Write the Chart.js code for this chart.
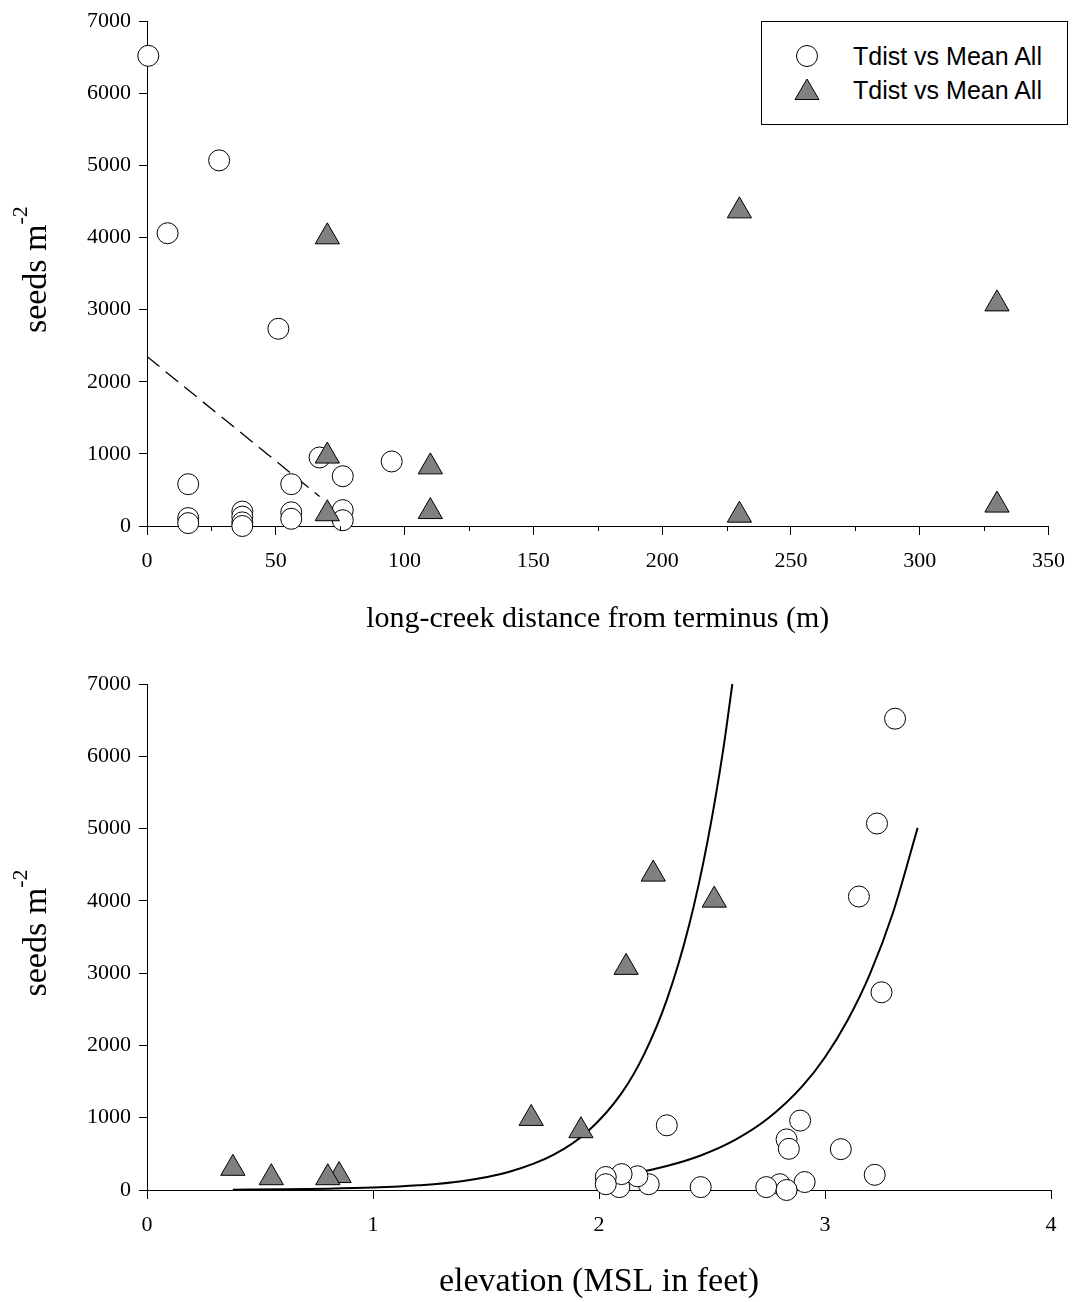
<!DOCTYPE html>
<html lang="en">
<head>
  <meta charset="UTF-8">
  <title>Seeds vs distance and elevation</title>
  <script src="https://cdn.jsdelivr.net/npm/chart.js"></script>
  <style>
    body { margin: 0; background: #fff; }
    #wrap { position: relative; width: 1078px; height: 1302px; }
    .panel { position: absolute; left: 0; width: 1078px; }
    #top { top: 0; height: 650px; }
    #bottom { top: 650px; height: 652px; }
    #legend {
      position: absolute; left: 761px; top: 21px; width: 305px; height: 102px;
      border: 1px solid #000; background: #fff;
      font-family: "Liberation Sans", Arial, sans-serif; font-size: 25px; color: #000;
    }
    .row { position: absolute; left: 0; height: 30px; width: 100%; }
    .row svg { position: absolute; left: 30px; top: 0; }
    .row span { position: absolute; left: 91px; top: 1px; line-height: 28px; }
  </style>
</head>
<body>
<div id="wrap">
  <div class="panel" id="top"><canvas id="chartTop"></canvas></div>
  <div class="panel" id="bottom"><canvas id="chartBottom"></canvas></div>
  <div id="legend">
    <div class="row" style="top:19px">
      <svg width="30" height="30"><circle cx="15" cy="15" r="10.5" fill="#fff" stroke="#000" stroke-width="1"/></svg>
      <span>Tdist vs Mean All</span>
    </div>
    <div class="row" style="top:53px">
      <svg width="30" height="30"><polygon points="15,4 27,24.5 3,24.5" fill="#808080" stroke="#000" stroke-width="1"/></svg>
      <span>Tdist vs Mean All</span>
    </div>
  </div>
</div>

<script>
  // top panel: long-creek distance (m)
  const circDist  = [0.5, 28, 8, 51, 16, 16, 16, 37, 37, 37, 37, 56, 56, 56, 67, 76, 76, 76, 95];
  const circSeedsTop = [6520, 5070, 4060, 2735, 580, 110, 40, 200, 130, 50, 0, 580, 190, 100, 950, 690, 220, 80, 895];
  const triDist  = [70, 230, 330, 70, 110, 70, 110, 230, 330];
  const triSeedsTop = [4010, 4370, 3080, 970, 820, 170, 200, 150, 290];
  const fitDist  = [0, 67];
  const fitSeedsTop = [2350, 410];
  const minorDist = [25, 75, 125, 175, 225, 275, 325];

  // bottom panel: elevation (MSL in feet)
  const circElev = [3.31, 3.23, 3.15, 3.25, 2.89, 2.30, 2.83, 2.84, 3.07, 3.22, 2.91, 2.80, 2.74, 2.83, 2.45, 2.22, 2.09, 2.17, 2.10, 2.03, 2.03];
  const circSeedsBot = [6520, 5070, 4060, 2735, 960, 895, 700, 570, 565, 210, 110, 80, 40, 0, 40, 80, 40, 190, 220, 180, 80];
  const triElev = [2.51, 2.24, 2.12, 1.70, 1.92, 0.55, 0.85, 0.80, 0.38];
  const triSeedsBot = [4010, 4370, 3080, 990, 820, 170, 200, 170, 300];
  const curveAElev  = [0.38, 0.6, 0.8, 1.0, 1.2, 1.4, 1.6, 1.8, 1.95, 2.1, 2.2, 2.3, 2.4, 2.48, 2.55, 2.59];
  const curveASeeds = [4, 9, 17, 33, 65, 126, 250, 490, 810, 1340, 1880, 2630, 3680, 4820, 6100, 7000];
  const curveBElev  = [2.03, 2.15, 2.3, 2.45, 2.6, 2.75, 2.9, 3.0, 3.1, 3.2, 3.3, 3.41];
  const curveBSeeds = [171, 229, 331, 477, 689, 995, 1437, 1836, 2348, 2997, 3829, 5010];

  const serif = '"Liberation Serif", "Times New Roman", serif';
  const pts = (xs, ys) => xs.map((x, i) => ({ x: x, y: ys[i] }));

  const circleSet = (data) => ({
    label: 'Tdist vs Mean All', data: data, pointStyle: 'circle', pointRadius: 10.5,
    pointBackgroundColor: '#fff', pointBorderColor: '#000', pointBorderWidth: 1, clip: false, order: 1
  });
  const triangleSet = (data) => ({
    label: 'Tdist vs Mean All', data: data, pointStyle: 'triangle', pointRadius: 14,
    pointBackgroundColor: '#808080', pointBorderColor: '#000', pointBorderWidth: 1, clip: false, order: 0
  });
  const lineSet = (data, dash) => ({
    type: 'line', label: 'fit', data: data, showLine: true, pointRadius: 0, borderColor: '#000',
    borderWidth: dash ? 1.3 : 2, borderDash: dash || [], cubicInterpolationMode: 'monotone', fill: false, order: 2
  });

  // y title with superscript, drawn rotated
  const yTitle = {
    id: 'yTitle',
    afterDraw(chart) {
      const { ctx, chartArea } = chart;
      const cy = (chartArea.top + chartArea.bottom) / 2 - 4;
      ctx.save();
      ctx.translate(36, cy);
      ctx.rotate(-Math.PI / 2);
      ctx.fillStyle = '#000';
      ctx.font = '34px ' + serif;
      const w1 = ctx.measureText('seeds m').width;
      ctx.font = '22px ' + serif;
      const w2 = ctx.measureText('-2').width;
      const x0 = -(w1 + w2) / 2;
      ctx.font = '34px ' + serif;
      ctx.fillText('seeds m', x0, 10);
      ctx.font = '22px ' + serif;
      ctx.fillText('-2', x0 + w1, -9);
      ctx.restore();
    }
  };

  // short minor ticks on the distance axis
  const minorTicks = {
    id: 'minorTicks',
    afterDraw(chart, args, opts) {
      if (!opts.values) return;
      const { ctx } = chart;
      const xs = chart.scales.x;
      ctx.save();
      ctx.strokeStyle = '#000';
      ctx.lineWidth = 1;
      opts.values.forEach(v => {
        const px = Math.round(xs.getPixelForValue(v)) + 0.5;
        ctx.beginPath();
        ctx.moveTo(px, xs.top);
        ctx.lineTo(px, xs.top + 5);
        ctx.stroke();
      });
      ctx.restore();
    }
  };

  function makeOptions(o) {
    return {
      responsive: true, maintainAspectRatio: false, animation: false,
      layout: { padding: { top: o.padTop, right: 27, left: 0, bottom: 0 } },
      plugins: { legend: { display: false }, tooltip: { enabled: false }, minorTicks: { values: o.minor } },
      scales: {
        x: {
          type: 'linear', min: o.xMin, max: o.xMax,
          afterFit: s => { s.height = o.xHeight; },
          grid: { drawOnChartArea: false, drawTicks: true, tickLength: 9, color: '#000' },
          border: { display: true, color: '#000', width: 1 },
          ticks: { stepSize: o.step, color: '#000', padding: 13, maxRotation: 0,
            font: { family: serif, size: 22 }, callback: v => String(v) },
          title: { display: true, text: o.title, color: '#000', font: { family: serif, size: o.titleSize }, padding: { top: 0, bottom: o.titlePad } }
        },
        y: {
          min: 0, max: 7000,
          afterFit: s => { s.width = 147; },
          grid: { drawOnChartArea: false, drawTicks: true, tickLength: 8, color: '#000' },
          border: { display: true, color: '#000', width: 1 },
          ticks: { stepSize: 1000, color: '#000', padding: 8, font: { family: serif, size: 22 }, callback: v => String(v) }
        }
      }
    };
  }

  new Chart(document.getElementById('chartTop'), {
    type: 'scatter',
    data: {
      datasets: [
        triangleSet(pts(triDist, triSeedsTop)),
        circleSet(pts(circDist, circSeedsTop)),
        lineSet(pts(fitDist, fitSeedsTop), [16, 8])
      ]
    },
    options: makeOptions({ padTop: 19, xMin: 0, xMax: 350, step: 50, xHeight: 124, minor: minorDist,
      title: 'long-creek distance from terminus (m)', titleSize: 30, titlePad: 13 }),
    plugins: [yTitle, minorTicks]
  });

  new Chart(document.getElementById('chartBottom'), {
    type: 'scatter',
    data: {
      datasets: [
        triangleSet(pts(triElev, triSeedsBot)),
        circleSet(pts(circElev, circSeedsBot)),
        lineSet(pts(curveAElev, curveASeeds)),
        lineSet(pts(curveBElev, curveBSeeds))
      ]
    },
    options: makeOptions({ padTop: 34, xMin: 0, xMax: 4, step: 1, xHeight: 112, minor: null,
      title: 'elevation (MSL in feet)', titleSize: 34, titlePad: 0 }),
    plugins: [yTitle, minorTicks]
  });
</script>
</body>
</html>
